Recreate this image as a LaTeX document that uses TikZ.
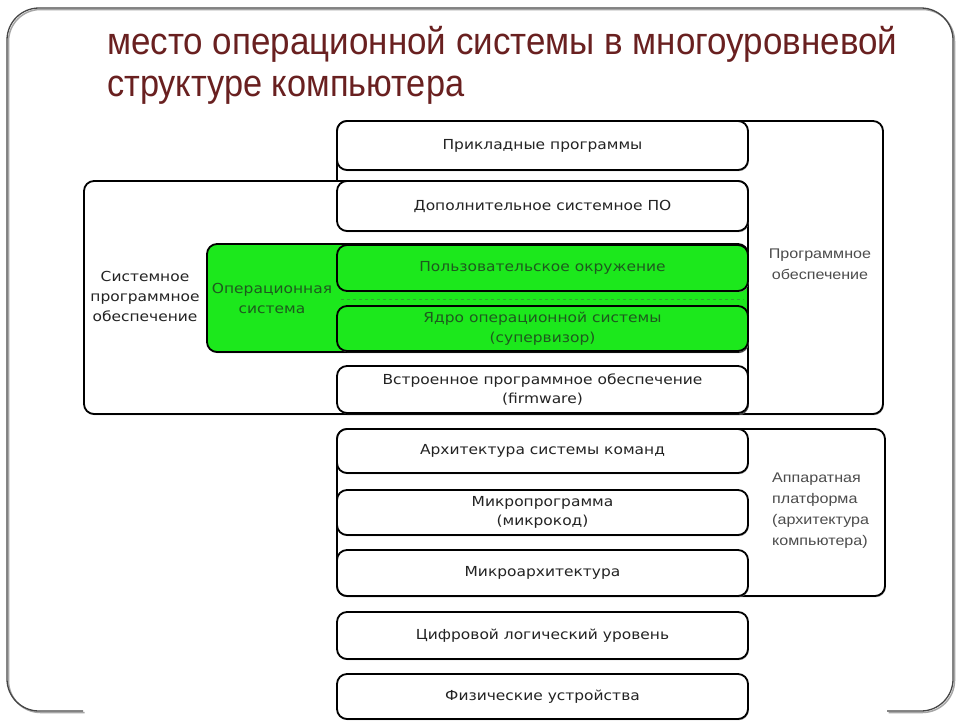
\documentclass[tikz,border=0pt]{standalone}
\usepackage{fontspec}
\usepackage{graphicx}
\setmainfont{DejaVu Sans}
\newfontfamily\titlefont{Liberation Sans}
\newfontfamily\boxfont[FakeStretch=1.12]{DejaVu Sans}
\newfontfamily\lblfont[FakeStretch=1.15]{Liberation Sans}
\usetikzlibrary{shadows}
\definecolor{titlered}{RGB}{105,32,32}
\definecolor{osgreen}{RGB}{28,232,28}
\definecolor{osgreentext}{RGB}{30,90,30}
\definecolor{boxtext}{RGB}{35,35,35}
\definecolor{framegray}{RGB}{70,70,70}
\begin{document}
\begin{tikzpicture}[x=1pt,y=-1pt,
  boxbase/.style={draw=black, line width=1.8pt, rounded corners=10pt, fill=white,
    inner sep=0pt, drop shadow={shadow xshift=0.8pt, shadow yshift=-1.2pt, fill=black!45, opacity=0.8}},
  layer/.style={boxbase, minimum width=411pt, font=\boxfont\fontsize{13.8}{19.5}\selectfont,
    text=boxtext, align=center},
  oslayer/.style={layer, fill=osgreen, text=osgreentext},
  grp/.style={boxbase},
  lbl/.style={font=\lblfont\fontsize{14}{21}\selectfont, text=black!70, inner sep=0pt},
  sidelbl/.style={font=\boxfont\fontsize{13.8}{20}\selectfont, align=center, inner sep=0pt},
  titletext/.style={anchor=base west, inner sep=0pt, text=titlered}
]
\useasboundingbox (0,0) rectangle (960,720);
\fill[white] (0,0) rectangle (960,720);

% slide frame
\draw[black!35, line width=1.5pt, rounded corners=32pt, shift={(1.5,1.5)}]
  (83,711) -- (7,711) -- (7,8) -- (953,8) -- (953,711) -- (887,711);
\draw[framegray, line width=1.3pt, rounded corners=32pt]
  (83,711) -- (7,711) -- (7,8) -- (953,8) -- (953,711) -- (887,711);

% title
\node[titletext] (t1) at (107,54) {\resizebox{790pt}{\height}{\titlefont\fontsize{38}{42}\selectfont место операционной системы в многоуровневой}};
\node[titletext] (t2) at (107,96) {\resizebox{357pt}{\height}{\titlefont\fontsize{38}{42}\selectfont структуре компьютера}};

% group boxes
\node[grp, minimum width=546pt, minimum height=293pt] (sw) at (610,267.5) {};
\node[grp, minimum width=548pt, minimum height=167pt] (hw) at (611,512.5) {};
\node[grp, minimum width=664pt, minimum height=233pt] (sys) at (416,297.5) {};
\node[grp, fill=osgreen, minimum width=541pt, minimum height=108pt] (os) at (477.5,298) {};
\draw[dashed, black!70, opacity=.4, line width=.8pt] (341,299) -- (744,299);

% labels of group boxes
\node[lbl, align=center] (swl) at (820,264) {Программное\\обеспечение};
\node[lbl, align=left, anchor=west] (hwl) at (772,511) {Аппаратная\\платформа\\(архитектура\\компьютера)};
\node[sidelbl, text=boxtext] (sysl) at (145,296) {Системное\\программное\\обеспечение};
\node[sidelbl, text=osgreentext] (osl) at (272,298) {Операционная\\система};

% layers
\node[layer, minimum height=49pt] (b1) at (542.5,145.5) {Прикладные программы};
\node[layer, minimum height=50pt] (b2) at (542.5,206) {Дополнительное системное ПО};
\node[oslayer, minimum height=46pt] (b3) at (542.5,268) {Пользовательское окружение};
\node[oslayer, minimum height=45pt] (b4) at (542.5,328.5) {Ядро операционной системы\\(супервизор)};
\node[layer, minimum height=47pt] (b5) at (542.5,389.5) {Встроенное программное обеспечение\\(firmware)};
\node[layer, minimum height=44pt] (b6) at (542.5,451) {Архитектура системы команд};
\node[layer, minimum height=45pt] (b7) at (542.5,512.5) {Микропрограмма\\(микрокод)};
\node[layer, minimum height=46pt] (b8) at (542.5,573) {Микроархитектура};
\node[layer, minimum height=47pt] (b9) at (542.5,635.5) {Цифровой логический уровень};
\node[layer, minimum height=45pt] (b10) at (542.5,696.5) {Физические устройства};
\end{tikzpicture}
\end{document}
